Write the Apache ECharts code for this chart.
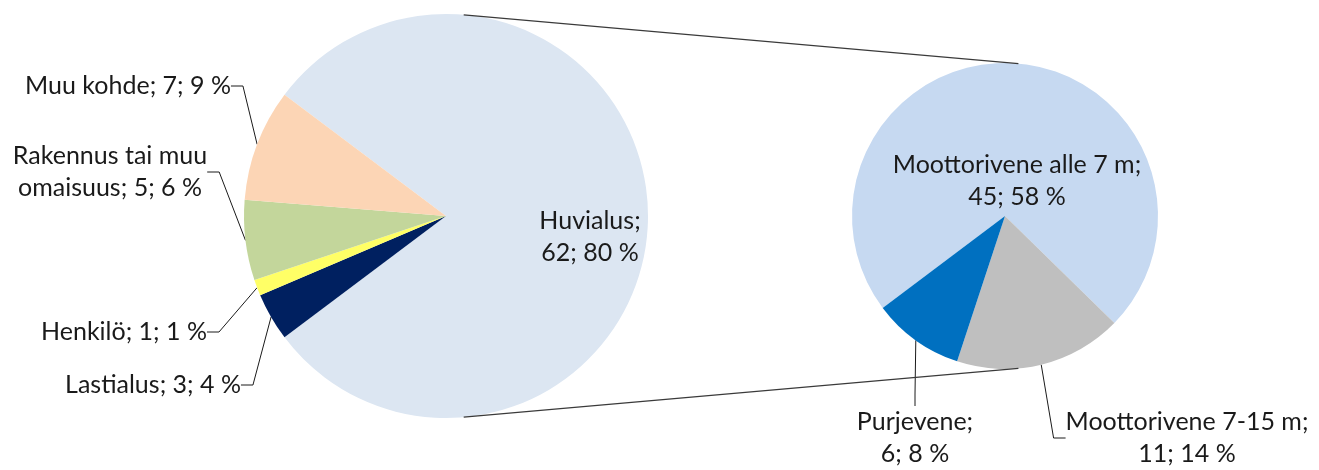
<!DOCTYPE html>
<html>
<head>
<meta charset="utf-8">
<script src="https://cdn.jsdelivr.net/npm/echarts@6/dist/echarts.min.js"></script>
<style>
  html, body { margin: 0; padding: 0; background: #fff; }
  #chart { width: 1319px; height: 470px; }
</style>
</head>
<body>
<div id="chart"></div>
<script>
// kaikki kohteet (pääpiirakka)
const mainNames = ['Huvialus', 'Lastialus', 'Henkilö', 'Rakennus tai muu omaisuus', 'Muu kohde']
const mainValues = [62, 3, 1, 5, 7]
const mainPercents = [80, 4, 1, 6, 9]

// huvialukset eriteltynä (toinen piirakka)
const subNames = ['Moottorivene alle 7 m', 'Moottorivene 7-15 m', 'Purjevene']
const subValues = [45, 11, 6]
const subPercents = [58, 14, 8]

const mainColors = ['#dce6f2', '#002060', '#ffff66', '#c3d69b', '#fcd5b5']
const subColors = ['#c6d9f1', '#bfbfbf', '#0070c0']

// piirakoiden paikat
const C1 = [446, 216], R1 = 202
const C2 = [1005, 216], R2 = 153

// tekstien paikat (keskipiste)
const mainLabelPos = [[590, 237], [153, 385], [124, 332], [110, 172], [128, 86]]
const subLabelPos = [[1017, 181], [1187, 438], [915, 438]]

const wrapAfterName = ['Huvialus', 'Moottorivene alle 7 m', 'Moottorivene 7-15 m', 'Purjevene']

function labelText(p, pcts) {
  const name = p.name === 'Rakennus tai muu omaisuus' ? 'Rakennus tai muu\nomaisuus' : p.name
  const sep = wrapAfterName.includes(p.name) ? '\n' : ' '
  return name + ';' + sep + p.value + '; ' + pcts[p.dataIndex] + ' %'
}

const labelBase = {
  show: true,
  position: 'outside',
  color: '#1a1a1a',
  fontFamily: 'Lato',
  fontSize: 25,
  lineHeight: 32,
  align: 'center'
}
const lineBase = {
  show: true,
  length: 10,
  length2: 12,
  lineStyle: { color: '#1a1a1a', width: 1 }
}

function pieData(names, values, colors, insideIndex) {
  return names.map((n, i) => {
    const d = { name: n, value: values[i], itemStyle: { color: colors[i] } }
    if (i === insideIndex) {
      d.label = { position: 'inside' }
      d.labelLine = { show: false }
    }
    return d
  })
}

const total = mainValues.reduce((a, b) => a + b, 0)
const startMain = 180 * mainValues[0] / total

// yhdysviivat (ulkoiset yhteiset tangentit)
const phi = Math.asin((R1 - R2) / (C2[0] - C1[0]))
const s = Math.sin(phi), c = Math.cos(phi)
const connStyle = { stroke: '#3a3a3a', lineWidth: 1.3 }

const chart = echarts.init(document.getElementById('chart'))
chart.setOption({
  animation: false,
  graphic: [
    { type: 'line', z: 10, shape: { x1: C1[0] + R1 * s, y1: C1[1] - R1 * c, x2: C2[0] + R2 * s, y2: C2[1] - R2 * c }, style: connStyle },
    { type: 'line', z: 10, shape: { x1: C1[0] + R1 * s, y1: C1[1] + R1 * c, x2: C2[0] + R2 * s, y2: C2[1] + R2 * c }, style: connStyle }
  ],
  series: [
    {
      type: 'pie',
      center: C1,
      radius: R1,
      startAngle: startMain,
      clockwise: true,
      avoidLabelOverlap: false,
      silent: true,
      itemStyle: { borderWidth: 0 },
      label: { ...labelBase, formatter: p => labelText(p, mainPercents) },
      labelLine: lineBase,
      labelLayout: p => ({ x: mainLabelPos[p.dataIndex][0], y: mainLabelPos[p.dataIndex][1], align: 'center', verticalAlign: 'middle' }),
      data: pieData(mainNames, mainValues, mainColors, 0)
    },
    {
      type: 'pie',
      center: C2,
      radius: R2,
      startAngle: 360 - startMain,
      clockwise: true,
      avoidLabelOverlap: false,
      silent: true,
      itemStyle: { borderWidth: 0 },
      label: { ...labelBase, formatter: p => labelText(p, subPercents) },
      labelLine: lineBase,
      labelLayout: p => ({ x: subLabelPos[p.dataIndex][0], y: subLabelPos[p.dataIndex][1], align: 'center', verticalAlign: 'middle' }),
      data: pieData(subNames, subValues, subColors, 0)
    }
  ]
})
</script>
</body>
</html>
